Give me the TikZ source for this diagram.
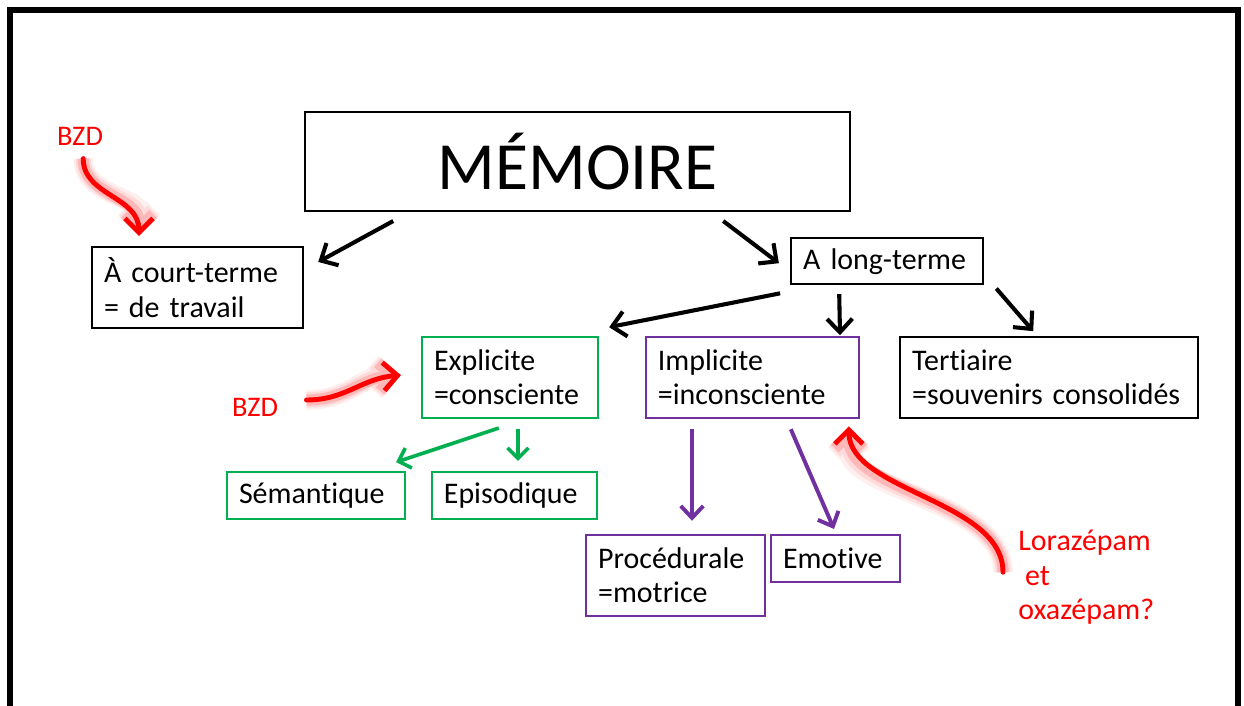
\documentclass[tikz,border=0pt]{standalone}
\usepackage{fontspec}
\setmainfont{Carlito}[Ligatures=NoCommon]
\usetikzlibrary{arrows.meta}

\definecolor{boxgreen}{RGB}{0,176,80}
\definecolor{boxpurple}{RGB}{112,48,160}

\begin{document}
\begin{tikzpicture}[
    box/.style={draw, line width=1.6pt, align=left, inner xsep=0.3cm, inner ysep=0pt,
                font=\fontsize{21.3pt}{24.2pt}\selectfont},
    redtext/.style={text=red, inner sep=0pt, align=left},
    blackarrow/.style={line width=2.9pt, -{Straight Barb[length=9.5pt, width=18pt]}},
    greenarrow/.style={draw=boxgreen, line width=2.6pt, -{Straight Barb[length=7.5pt, width=15pt]}},
    purplearrow/.style={draw=boxpurple, line width=2.8pt, -{Straight Barb[length=8.5pt, width=16pt]}},
    redarrow/.style={draw=red, line width=3.5pt, line cap=round, -{Straight Barb[length=10pt, width=20pt]},
                     preaction={draw=red!6, line width=14pt},
                     preaction={draw=red!14, line width=11pt},
                     preaction={draw=red!28, line width=8pt}}
  ]

  \useasboundingbox (0, 0) rectangle (31.1, -17.65);

  % frame of the slide
  \draw[line width=4.8pt] (0.25, -19) -- (0.25, -0.25) -- (30.95, -0.25) -- (30.95, -19);

  \node[box, align=center, minimum width=13.62cm, minimum height=2.475cm,
        font=\fontsize{48pt}{50pt}\selectfont] (memoire) at (14.44, -4.04) {MÉMOIRE};

  \node[box, text width=4.675cm, minimum height=2.025cm] (court) at (4.94, -7.19) {À court-terme\\= de travail};
  \node[box, text width=4.2cm, minimum height=1.15cm] (longterme) at (22.18, -6.53) {A long-terme};

  \node[box, draw=boxgreen, text width=3.8cm, minimum height=2.025cm] (explicite) at (12.75, -9.44) {Explicite\\=consciente};
  \node[box, draw=boxpurple, text width=4.725cm, minimum height=2.025cm] (implicite) at (18.81, -9.44) {Implicite\\=inconsciente};
  \node[box, text width=6.85cm, minimum height=2.025cm] (tertiaire) at (26.23, -9.44) {Tertiaire\\=souvenirs consolidés};

  \node[box, draw=boxgreen, text width=3.85cm, minimum height=1.175cm] (semantique) at (7.9, -12.39) {Sémantique};
  \node[box, draw=boxgreen, text width=3.525cm, minimum height=1.175cm] (episodique) at (12.86, -12.39) {Episodique};

  \node[box, draw=boxpurple, text width=3.875cm, minimum height=2.025cm] (procedurale) at (16.89, -14.39) {Procédurale\\=motrice};
  \node[box, draw=boxpurple, text width=2.625cm, minimum height=1.175cm] (emotive) at (20.89, -13.96) {Emotive};

  % red notes
  \node[redtext, font=\fontsize{20.2pt}{24pt}\selectfont] (bzd1) at (2.0, -3.4) {BZD};
  \node[redtext, font=\fontsize{20.2pt}{24pt}\selectfont] (bzd2) at (6.38, -10.18) {BZD};
  \node[redtext, anchor=west, font=\fontsize{21.3pt}{24.2pt}\selectfont] (lora) at (25.45, -14.43) {Lorazépam\\~et\\oxazépam?};

  % black arrows
  \draw[blackarrow] ([xshift=-4.61cm, yshift=-0.22cm]memoire.south) -- ([xshift=0.35cm, yshift=-0.4cm]court.north east);
  \draw[blackarrow] ([xshift=3.64cm, yshift=-0.22cm]memoire.south) -- ([xshift=-0.28cm, yshift=-0.05cm]longterme.west);
  \draw[blackarrow] ([xshift=-0.25cm, yshift=-0.2cm]longterme.south west) -- ([xshift=0.25cm, yshift=0.22cm]explicite.north east);
  \draw[blackarrow] ([xshift=-1.2cm, yshift=-0.22cm]longterme.south) -- ([xshift=-0.5cm, yshift=0.02cm]implicite.north east);
  \draw[blackarrow] ([xshift=0.3cm, yshift=-0.08cm]longterme.south east) -- ([xshift=-0.4cm, yshift=0.12cm]tertiaire.north);

  % green and purple arrows
  \draw[greenarrow] ([xshift=-0.28cm, yshift=-0.22cm]explicite.south) -- ([xshift=-0.25cm, yshift=0.22cm]semantique.north east);
  \draw[greenarrow] ([xshift=0.2cm, yshift=-0.25cm]explicite.south) -- ([xshift=0.09cm, yshift=0.25cm]episodique.north);
  \draw[purplearrow] ([xshift=-1.51cm, yshift=-0.25cm]implicite.south) -- ([xshift=0.41cm, yshift=0.33cm]procedurale.north);
  \draw[purplearrow] ([xshift=0.96cm, yshift=-0.25cm]implicite.south) -- ([xshift=-0.04cm, yshift=0.12cm]emotive.north);

  % curved red arrows
  \draw[redarrow] ([xshift=0.08cm, yshift=-0.33cm]bzd1.south) .. controls +(0, -0.93) and +(0, 1.0) .. ([xshift=1.2cm, yshift=0.25cm]court.north west);
  \draw[redarrow] ([xshift=0.7cm, yshift=0.18cm]bzd2.east) .. controls +(1.0, 0) and +(-1.0, -0.08) .. ([xshift=-0.5cm, yshift=0.06cm]explicite.west);
  \draw[redarrow] ([xshift=-0.375cm, yshift=0.125cm]lora.west) .. controls +(0, 1.8) and +(0, -1.625) .. ([xshift=-0.28cm, yshift=-0.18cm]implicite.south east);

\end{tikzpicture}
\end{document}
